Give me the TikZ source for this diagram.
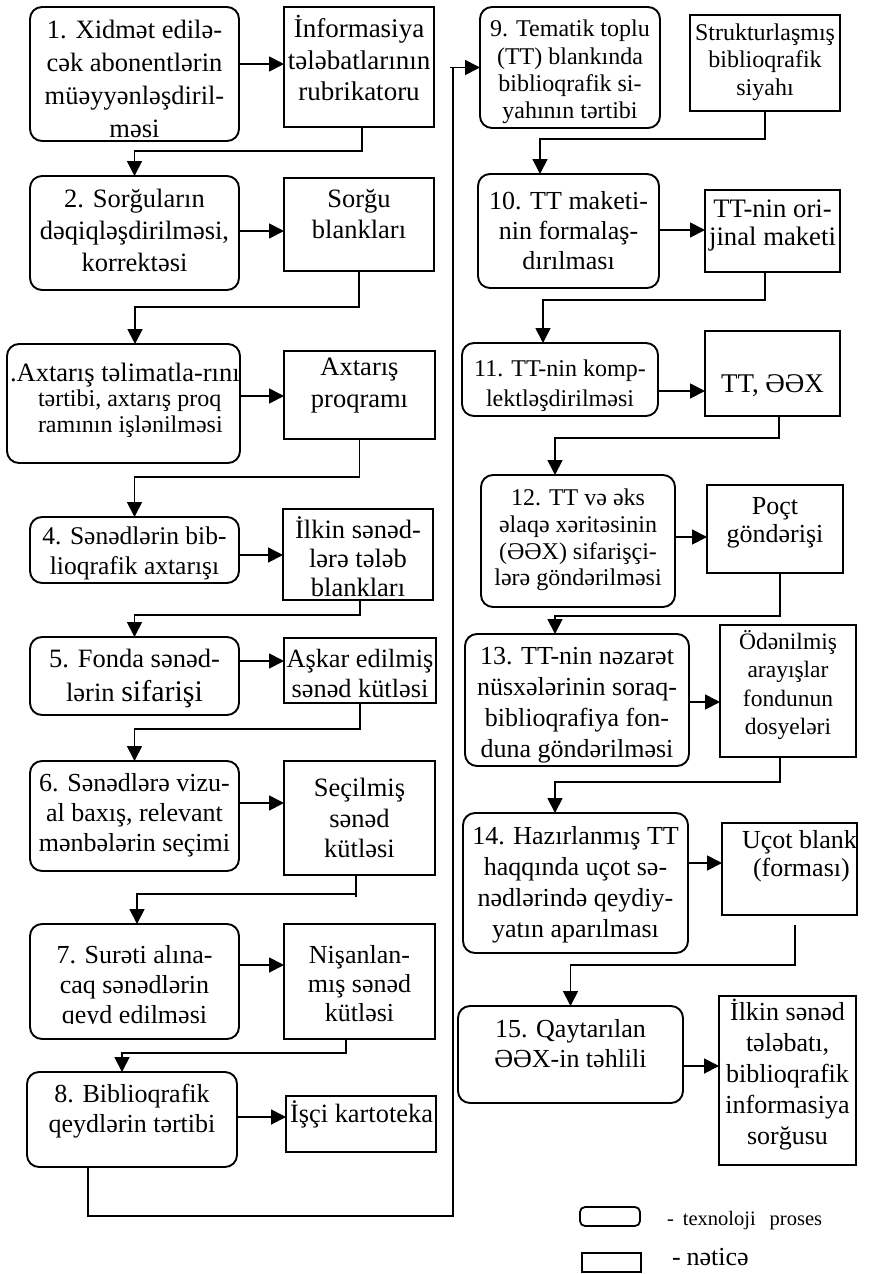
\documentclass[tikz,border=0pt]{standalone}
\usepackage{fontspec}
\setmainfont{Liberation Serif}
\usetikzlibrary{arrows.meta}

% box drawn from its corners (x1,y1)-(x2,y2), y measured downwards
\newcommand\boxnode[6]{%
  \node[#2, minimum width={(#5-#3)*1pt}, minimum height={(#6-#4)*1pt}]
    (#1) at ({(#3+#5)/2},{(#4+#6)/2}) {};}
\newcommand\fs[2]{\fontsize{#1}{#2}\selectfont}

\begin{document}
\begin{tikzpicture}[x=1pt,y=-1pt,
  proc/.style={draw, line width=1.9pt, rounded corners=12pt, inner sep=0pt, outer sep=0pt},
  result/.style={draw, line width=1.9pt, inner sep=0pt, outer sep=0pt},
  txt/.style={align=center, inner sep=0pt, outer sep=0pt},
  link/.style={line width=1.8pt},
  arr/.style={line width=1.8pt, -{Triangle[length=15pt,width=15pt]}}]

\fill[white] (0,0) rectangle (868,1274);
\useasboundingbox (0,0) rectangle (868,1274);

% ---- left column: processes and results
\boxnode{p1}{proc}{30}{7}{239}{141}
\boxnode{r1}{result}{284}{7}{434}{127}
\boxnode{p2}{proc}{30}{176}{239}{290}
\boxnode{r2}{result}{284}{178}{434}{271}
\boxnode{p3}{proc}{7}{344}{240}{463}
\boxnode{r3}{result}{284}{351}{435}{439}
\boxnode{p4}{proc}{30}{517}{239}{583}
\boxnode{r4}{result}{283}{509}{433}{600}
\boxnode{p5}{proc}{30}{637}{239}{715}
\boxnode{r5}{result}{284}{638}{436}{703}
\boxnode{p6}{proc}{30}{761}{239}{871}
\boxnode{r6}{result}{284}{761}{435}{875}
\boxnode{p7}{proc}{30}{924}{239}{1039}
\boxnode{r7}{result}{284}{924}{435}{1039}
\boxnode{p8}{proc}{27}{1072}{237}{1167}
\boxnode{r8}{result}{286}{1096}{436}{1152}

% ---- right column
\boxnode{p9}{proc}{480}{7}{660}{128}
\boxnode{r9}{result}{690}{15}{840}{111}
\boxnode{p10}{proc}{478}{174}{659}{288}
\boxnode{r10}{result}{705}{190}{840}{272}
\boxnode{p11}{proc}{462}{343}{658}{416}
\boxnode{r11}{result}{705}{331}{840}{416}
\boxnode{p12}{proc}{481}{475}{675}{607}
\boxnode{r12}{result}{707}{485}{843}{573}
\boxnode{p13}{proc}{465}{634}{689}{766}
\boxnode{r13}{result}{720}{625}{856}{757}
\boxnode{p14}{proc}{463}{813}{688}{953}
\boxnode{r14}{result}{722}{823}{857}{915}
\boxnode{p15}{proc}{458}{1006}{683}{1103}
\boxnode{r15}{result}{719}{996}{856}{1165}

% ---- texts, left column
\node[txt, font=\fs{26.5}{33}] (t1) at (134.5,79) {1. Xidmət edilə-\\cək abonentlərin\\müəyyənləşdiril-\\məsi};
\node[txt, font=\fs{27}{31.5}] (tr1) at (359,58) {İnformasiya\\tələbatlarının\\rubrikatoru};
\node[txt, font=\fs{26.5}{32}] (t2) at (134.5,230) {2. Sorğuların\\dəqiqləşdirilməsi,\\korrektəsi};
\node[txt, font=\fs{26.5}{31}] (tr2) at (359,214) {Sorğu\\blankları};
\begin{scope}
  \clip (p3.south west) rectangle ([xshift=-1pt]p3.north east);
  \node[txt, anchor=west, font=\fs{26.5}{30}] (t3a) at (10,375) {.Axtarış təlimatla-rını};
\end{scope}
\node[txt, anchor=west, align=left, font=\fs{24}{26}] (t3b) at (38,414) {tərtibi, axtarış proq\\ramının işlənilməsi};
\node[txt, font=\fs{26.5}{32}] (tr3) at (359.5,386) {Axtarış\\proqramı};
\node[txt, font=\fs{25.5}{30}] (t4) at (134.5,553) {4. Sənədlərin bib-\\lioqrafik axtarışı};
\node[txt, font=\fs{26.5}{29}] (tr4) at (358,557) {İlkin sənəd-\\lərə tələb\\blankları};
\node[txt, font=\fs{26.5}{34}] (t5) at (134.5,678) {5. Fonda sənəd-\\lərin {\fs{30}{34}sifarişi}};
\node[txt, font=\fs{26.3}{30}] (tr5) at (360,673) {Aşkar edilmiş\\sənəd kütləsi};
\node[txt, font=\fs{26}{30}] (t6) at (134.5,815) {6. Sənədlərə vizu-\\al baxış, relevant\\mənbələrin seçimi};
\node[txt, font=\fs{26.5}{30.5}] (tr6) at (359.5,818) {Seçilmiş\\sənəd\\kütləsi};
\begin{scope}
  \clip (p7.north west) rectangle ([yshift=16pt]p7.south east);
  \node[txt, font=\fs{26}{30}] (t7) at (134.5,987) {7. Surəti alına-\\caq sənədlərin\\qeyd edilməsi};
\end{scope}
\node[txt, font=\fs{26}{29}] (tr7) at (359.5,984) {Nişanlan-\\mış sənəd\\kütləsi};
\node[txt, font=\fs{26}{30}] (t8) at (132,1111) {8. Biblioqrafik\\qeydlərin tərtibi};
\node[txt, font=\fs{26.4}{30}] (tr8) at (361.5,1114) {İşçi kartoteka};

% ---- texts, right column
\node[txt, font=\fs{24}{27.3}] (t9) at (570,72) {9. Tematik toplu\\(TT) blankında\\biblioqrafik si-\\yahının tərtibi};
\node[txt, font=\fs{24}{27.5}] (tr9) at (765,62) {Strukturlaşmış\\biblioqrafik\\siyahı};
\node[txt, font=\fs{26}{30}] (t10) at (568.5,231) {10. TT maketi-\\nin formalaş-\\dırılması};
\node[txt, font=\fs{26.7}{28}] (tr10) at (772.5,225) {TT-nin ori-\\jinal maketi};
\node[txt, font=\fs{24}{30}] (t11) at (560,386) {11. TT-nin komp-\\lektləşdirilməsi};
\node[txt, font=\fs{27}{30}] (tr11) at (772.5,386) {TT, ƏƏX};
\node[txt, font=\fs{24}{26.7}] (t12) at (578,540) {12. TT və əks\\əlaqə xəritəsinin\\(ƏƏX) sifarişçi-\\lərə göndərilməsi};
\node[txt, font=\fs{26}{28}] (tr12) at (775,523) {Poçt\\göndərişi};
\node[txt, font=\fs{26}{31}] (t13) at (577,705) {13. TT-nin nəzarət\\nüsxələrinin soraq-\\biblioqrafiya fon-\\duna göndərilməsi};
\node[txt, font=\fs{23.5}{28.5}] (tr13) at (788,685) {Ödənilmiş\\arayışlar\\fondunun\\dosyeləri};
\node[txt, font=\fs{26}{31}] (t14) at (575.5,885) {14. Hazırlanmış TT\\haqqında uçot sə-\\nədlərində qeydiy-\\yatın aparılması};
\begin{scope}
  \clip (r14.south west) rectangle ([xshift=-1pt]r14.north east);
  \node[txt, anchor=west, align=left, font=\fs{26}{28}] (tr14) at (742,856) {Uçot blankı\\\hspace*{11pt}(forması)};
\end{scope}
\node[txt, font=\fs{26}{30}] (t15) at (570.5,1044) {15. Qaytarılan\\ƏƏX-in təhlili};
\node[txt, font=\fs{26}{31}] (tr15) at (787.5,1075) {İlkin sənəd\\tələbatı,\\biblioqrafik\\informasiya\\sorğusu};

% ---- process -> result arrows
\draw[arr] ([yshift=10pt]p1.east) -- ++(45,0);
\draw[arr] ([yshift=2pt]p2.east) -- ++(45,0);
\draw[arr] ([yshift=7.5pt]p3.east) -- ++(44,0);
\draw[arr] ([yshift=-5pt]p4.east) -- ++(44,0);
\draw[arr] ([yshift=15pt]p5.east) -- ++(45,0);
\draw[arr] ([yshift=13pt]p6.east) -- ++(45,0);
\draw[arr] ([yshift=16.5pt]p7.east) -- ++(45,0);
\draw[arr] ([yshift=2.5pt]p8.east) -- ++(49,0);
\draw[arr] ([yshift=1pt]p10.east) -- ++(46,0);
\draw[arr] ([yshift=-11.5pt]p11.east) -- ++(47,0);
\draw[arr] ([yshift=4pt]p12.east) -- ++(32,0);
\draw[arr] ([yshift=-2pt]p13.east) -- ++(31,0);
\draw[arr] ([yshift=20pt]p14.east) -- ++(34,0);
\draw[arr] ([yshift=-11.5pt]p15.east) -- ++(36,0);

% ---- result -> next process links
\draw[arr] ([xshift=3pt]r1.south) -- ++(0,24) -| (p2.north);
\draw[arr] (r2.south) -- ++(0,36) -| ([xshift=11.5pt]p3.north);
\draw[arr] (r3.south) -- ++(0,38) -| (p4.north);
\draw[arr] ([xshift=2pt]r4.south) -- ++(0,15) -| (p5.north);
\draw[arr] (r5.south) -- ++(0,26) -| (p6.north);
\draw[link] ([xshift=-3.5pt]r6.south) -- ++(0,22);
\draw[arr] ([xshift=-3.5pt,yshift=-19pt]r6.south) -| ([xshift=2.5pt]p7.north);
\draw[arr] ([xshift=-13.5pt]r7.south) -- ++(0,14) -| ([xshift=-10pt]p8.north);
\coordinate (fb) at (453,1216);
\draw[arr] ([xshift=-44pt]p8.south) -- ++(0,49) -- (fb) |- (p9.west);
\draw[link] ([xshift=-30pt]p9.west) -- ++(4,0);
\draw[arr] (r9.south) -- ++(0,28) -| ([xshift=-28.5pt]p10.north);
\draw[arr] ([xshift=-7.5pt]r10.south) -- ++(0,28) -| ([xshift=-17pt]p11.north);
\draw[arr] ([xshift=6.5pt]r11.south) -- ++(0,22) -| ([xshift=-23pt]p12.north);
\draw[arr] ([xshift=5pt]r12.south) -- ++(0,43) -| ([xshift=-22pt]p13.north);
\draw[arr] ([xshift=-8pt]r13.south) -- ++(0,25) -| ([xshift=-20.5pt]p14.north);
\draw[arr] ([xshift=5.5pt,yshift=-10pt]r14.south) -- ++(0,40) -| (p15.north);

% ---- legend
\node[draw, line width=1.8pt, rounded corners=5pt, inner sep=0pt, outer sep=0pt,
      minimum width=60pt, minimum height=19pt] (lg1) at (610,1216.5) {};
\node[txt, anchor=west, font=\fs{20.5}{24}] (lt1) at (667,1221) {-\hspace{9pt}texnoloji\hspace{14pt}proses};
\node[result, minimum width=59pt, minimum height=19pt] (lg2) at (611.5,1262.5) {};
\node[txt, anchor=west, font=\fs{26}{30}] (lt2) at (672,1257) {-\hspace{6pt}nəticə};

\end{tikzpicture}
\end{document}
